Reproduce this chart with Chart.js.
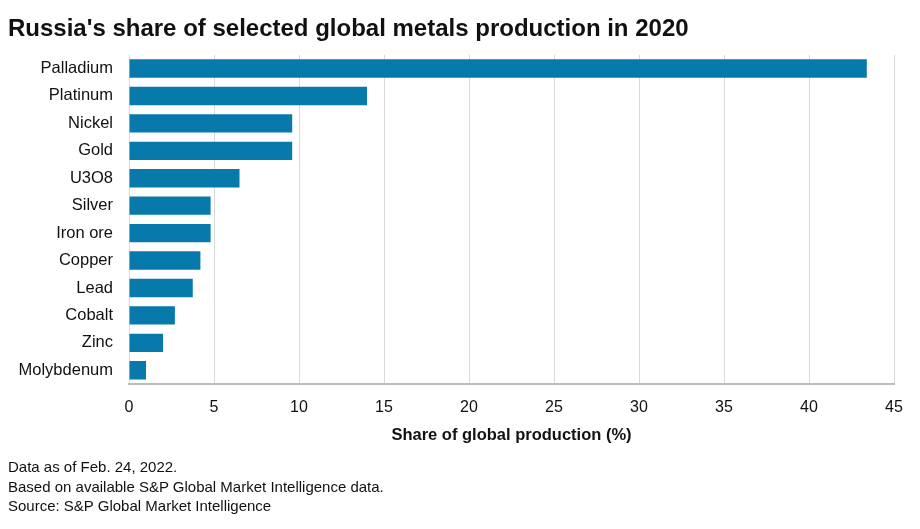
<!DOCTYPE html>
<html>
<head>
<meta charset="utf-8">
<script src="https://cdn.jsdelivr.net/npm/chart.js@4"></script>
<style>
  body { margin: 0; background: #fff; }
  #wrap { position: relative; width: 920px; height: 529px; }
  #chart { position: absolute; left: 0; top: 0; }
  #notes {
    position: absolute; left: 8px; top: 457px;
    font-family: "Liberation Sans", Arial, sans-serif;
    font-size: 15px; line-height: 19.5px; color: #111;
  }
</style>
</head>
<body>
<div id="wrap">
  <canvas id="chart" width="920" height="529"></canvas>
  <div id="notes">
    <div>Data as of Feb. 24, 2022.</div>
    <div>Based on available S&amp;P Global Market Intelligence data.</div>
    <div>Source: S&amp;P Global Market Intelligence</div>
  </div>
</div>
<script>
"use strict";

const metals = [
  "Palladium", "Platinum", "Nickel", "Gold", "U3O8", "Silver",
  "Iron ore", "Copper", "Lead", "Cobalt", "Zinc", "Molybdenum",
];
const russiaShare = [43.4, 14.0, 9.6, 9.6, 6.5, 4.8, 4.8, 4.2, 3.75, 2.7, 2.0, 1.0];
const xTicks = [0, 5, 10, 15, 20, 25, 30, 35, 40, 45];

const fontFamily = '"Liberation Sans", Arial, sans-serif';
const barColor = "#0779ab";

const ctx = document.getElementById("chart").getContext("2d");

const myChart = new Chart(ctx, {
  type: "bar",
  data: {
    labels: metals,
    datasets: [
      {
        label: "Share of global production (%)",
        data: russiaShare,
        backgroundColor: barColor,
        borderWidth: 0,
        categoryPercentage: 1,
        barPercentage: 0.67,
      },
    ],
  },
  options: {
    indexAxis: "y",
    responsive: false,
    animation: false,
    layout: { padding: { left: 8, right: 26, top: 0, bottom: 84 } },
    plugins: {
      legend: { display: false },
      tooltip: { enabled: false },
      title: {
        display: true,
        text: "Russia's share of selected global metals production in 2020",
        align: "start",
        color: "#111",
        font: { family: fontFamily, size: 24, weight: "bold" },
        padding: { top: 15, bottom: 11 },
      },
    },
    scales: {
      x: {
        min: 0,
        max: 45,
        afterBuildTicks: (scale) => {
          scale.ticks = xTicks.map((v) => ({ value: v }));
        },
        afterFit: (scale) => {
          scale.height = 61;
        },
        grid: { color: "#d9d9d9", drawTicks: false },
        border: { color: "#bdbdbd", width: 2 },
        ticks: {
          color: "#111",
          padding: 14,
          font: { family: fontFamily, size: 16 },
        },
        title: {
          display: true,
          text: "Share of global production (%)",
          color: "#111",
          font: { family: fontFamily, size: 16.5, weight: "bold" },
          padding: { top: 0, bottom: 0 },
        },
      },
      y: {
        afterFit: (scale) => {
          scale.width = 121;
        },
        grid: { display: false, drawTicks: false },
        border: { display: false },
        ticks: {
          color: "#111",
          padding: 16,
          font: { family: fontFamily, size: 16.5 },
        },
      },
    },
  },
});
</script>
</body>
</html>
